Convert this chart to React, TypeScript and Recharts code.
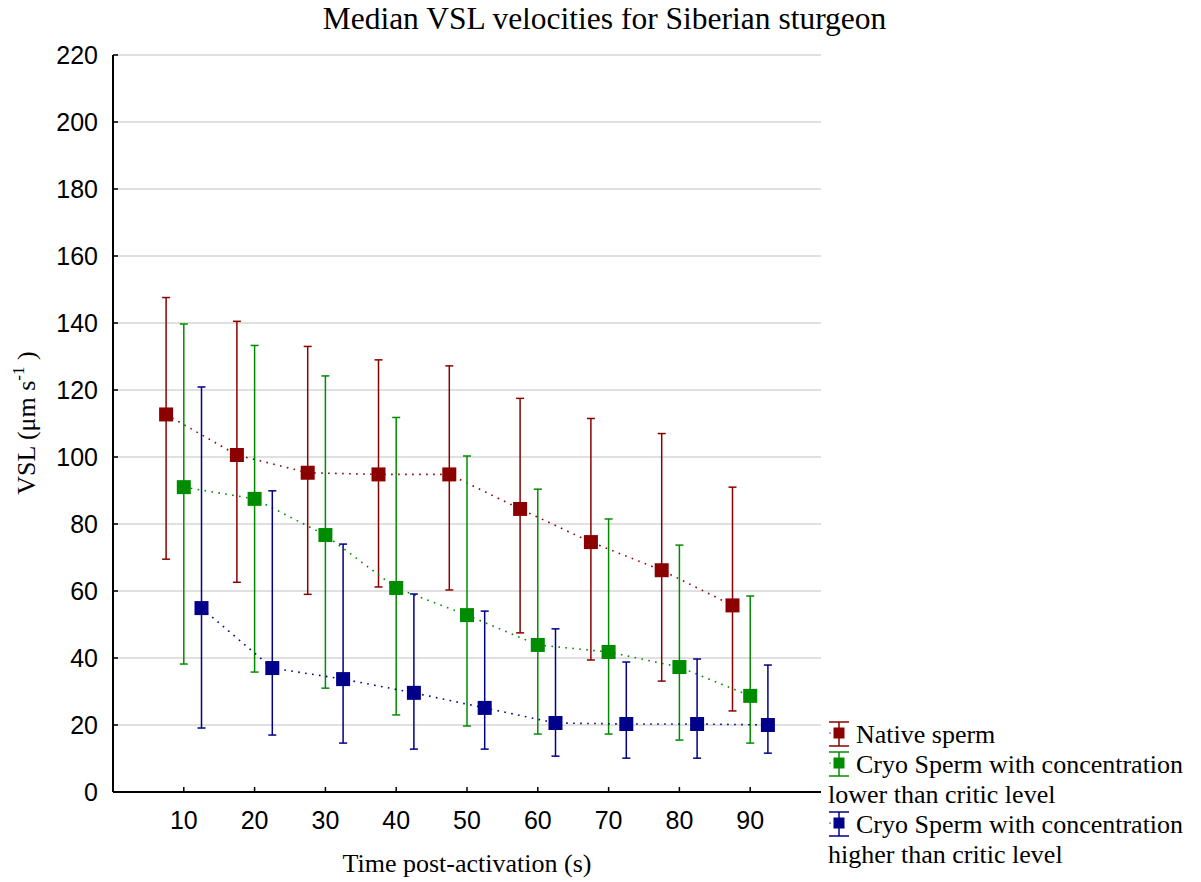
import React from "react";
import {
  ComposedChart, Line, ErrorBar, XAxis, YAxis, CartesianGrid, Legend,
} from "recharts";

// time post-activation (s), each group nudged a little so the bars don't overlap
const nativeTime = [7.5, 17.5, 27.5, 37.5, 47.5, 57.5, 67.5, 77.5, 87.5];
const lowTime = [10, 20, 30, 40, 50, 60, 70, 80, 90];
const highTime = [12.5, 22.5, 32.5, 42.5, 52.5, 62.5, 72.5, 82.5, 92.5];

// medians
const nativeMedian = [112.7, 100.6, 95.3, 94.8, 94.8, 84.5, 74.6, 66.2, 55.7];
const lowMedian = [91.0, 87.5, 76.7, 60.9, 52.8, 43.9, 41.8, 37.3, 28.7];
const highMedian = [54.9, 37.0, 33.7, 29.6, 25.1, 20.6, 20.3, 20.3, 20.0];

// whiskers
const nativeUpper = [147.6, 140.5, 133.0, 129.0, 127.2, 117.5, 111.5, 107.0, 91.0];
const nativeLower = [69.5, 62.6, 59.0, 61.2, 60.3, 47.5, 39.4, 33.1, 24.2];
const lowUpper = [139.7, 133.3, 124.2, 111.8, 100.3, 90.4, 81.5, 73.7, 58.5];
const lowLower = [38.2, 35.8, 31.0, 23.0, 19.7, 17.3, 17.3, 15.5, 14.6];
const highUpper = [120.9, 89.9, 74.0, 59.1, 54.0, 48.7, 38.8, 39.7, 37.9];
const highLower = [19.1, 17.0, 14.6, 12.8, 12.8, 10.7, 10.1, 10.1, 11.6];

const seriesNames = [
  "Native sperm",
  "Cryo Sperm with concentration lower than critic level",
  "Cryo Sperm with concentration higher than critic level",
];

const xTicks = [10, 20, 30, 40, 50, 60, 70, 80, 90];
const yTicks = [0, 20, 40, 60, 80, 100, 120, 140, 160, 180, 200, 220];

const RED = "#8b0000";
const GREEN = "#008c00";
const BLUE = "#00008b";

const SERIF = "'Liberation Serif', 'Times New Roman', serif";
const SANS = "'Liberation Sans', Arial, sans-serif";

function build(xs: number[], med: number[], lo: number[], hi: number[]) {
  return xs.map((x, i) => ({ x, y: med[i], err: [med[i] - lo[i], hi[i] - med[i]] }));
}

const nativeData = build(nativeTime, nativeMedian, nativeLower, nativeUpper);
const lowData = build(lowTime, lowMedian, lowLower, lowUpper);
const highData = build(highTime, highMedian, highLower, highUpper);

const W = 1193;
const H = 874;

function squareDot(color: string) {
  return (props: any) => {
    const { cx, cy, index } = props;
    if (cx == null || cy == null) return <g key={index} />;
    return <rect key={index} x={cx - 7} y={cy - 7} width={14} height={14} fill={color} />;
  };
}

function LegendIcon({ color }: { color: string }) {
  return (
    <svg width={22} height={26} style={{ verticalAlign: "-4px", marginRight: 6 }}>
      <rect x={1.5} y={11.5} width={1.2} height={1.2} fill={color} />
      <line x1={11} x2={11} y1={1} y2={25} stroke={color} strokeWidth={1.5} />
      <line x1={1} x2={21} y1={1} y2={1} stroke={color} strokeWidth={1.5} />
      <line x1={1} x2={21} y1={25} y2={25} stroke={color} strokeWidth={1.5} />
      <rect x={5.5} y={6.5} width={11} height={11} fill={color} />
    </svg>
  );
}

function renderLegend(props: any) {
  const items = [...(props.payload || [])].sort(
    (a: any, b: any) => seriesNames.indexOf(a.value) - seriesNames.indexOf(b.value)
  );
  return (
    <div style={{ fontFamily: SERIF, fontSize: 26, lineHeight: "30px", color: "#000" }}>
      {items.map((it: any) => (
        <div key={it.value}>
          <LegendIcon color={it.color} />
          {it.value}
        </div>
      ))}
    </div>
  );
}

const tickFont = { fill: "#000", fontFamily: SANS, fontSize: 25 };

export default function App() {
  return (
    <div style={{ position: "relative", width: W, height: H }}>
      <div
        style={{
          position: "absolute", left: 0, top: -5, width: W, textAlign: "center",
          fontFamily: SERIF, fontSize: 31.5, lineHeight: "32px", zIndex: 2,
        }}
      >
        Median VSL velocities for Siberian sturgeon
      </div>
      <ComposedChart width={W} height={H} margin={{ top: 47, right: 380, bottom: 0, left: 0 }}>
        <CartesianGrid vertical={false} stroke="#d6d6d6" strokeWidth={1.5} yAxisId="left" />
        <XAxis
          xAxisId="bottom"
          type="number"
          dataKey="x"
          domain={[0, 100]}
          ticks={xTicks}
          allowDataOverflow
          height={90}
          axisLine={{ stroke: "#000", strokeWidth: 2 }}
          tickLine={{ stroke: "#000", strokeWidth: 1.5 }}
          tickSize={-5}
          tickMargin={24}
          tick={tickFont}
          label={{
            content: () => (
              <text x={459} y={864} textAnchor="middle" fontFamily={SERIF} fontSize={26} fill="#000">
                Time post-activation (s)
              </text>
            ),
          }}
        />
        <XAxis
          xAxisId="top"
          orientation="top"
          type="number"
          dataKey="x"
          domain={[0, 100]}
          ticks={xTicks}
          allowDataOverflow
          height={0}
          axisLine={{ stroke: "#000", strokeWidth: 2 }}
          tickLine={{ stroke: "#000", strokeWidth: 1.5 }}
          tickSize={-5}
          tickFormatter={() => ""}
        />
        <YAxis
          yAxisId="left"
          type="number"
          domain={[0, 220]}
          ticks={yTicks}
          width={105}
          axisLine={{ stroke: "#000", strokeWidth: 2 }}
          tickLine={{ stroke: "#000", strokeWidth: 1.5 }}
          tickSize={-5}
          tickMargin={20}
          tick={tickFont}
          label={{
            content: () => (
              <text
                x={27}
                y={415}
                transform="rotate(-90 27 415)"
                textAnchor="middle"
                fontFamily={SERIF}
                fontSize={26}
                fill="#000"
              >
                VSL (μm s<tspan dy={-11} fontSize={17}>-1</tspan>
                <tspan dy={11}> )</tspan>
              </text>
            ),
          }}
        />
        <YAxis
          yAxisId="right"
          orientation="right"
          type="number"
          domain={[0, 220]}
          ticks={yTicks}
          width={0}
          axisLine={{ stroke: "#000", strokeWidth: 2 }}
          tickLine={{ stroke: "#000", strokeWidth: 1.5 }}
          tickSize={-5}
          tickFormatter={() => ""}
        />
        <Line
          name={seriesNames[0]}
          data={nativeData}
          dataKey="y"
          xAxisId="bottom"
          yAxisId="left"
          stroke={RED}
          strokeWidth={1.6}
          strokeDasharray="1.6 5.4"
          dot={squareDot(RED)}
          activeDot={false}
          isAnimationActive={false}
        >
          <ErrorBar dataKey="err" direction="y" width={4} stroke={RED} strokeWidth={1.5} isAnimationActive={false} />
        </Line>
        <Line
          name={seriesNames[1]}
          data={lowData}
          dataKey="y"
          xAxisId="bottom"
          yAxisId="left"
          stroke={GREEN}
          strokeWidth={1.6}
          strokeDasharray="1.6 5.4"
          dot={squareDot(GREEN)}
          activeDot={false}
          isAnimationActive={false}
        >
          <ErrorBar dataKey="err" direction="y" width={4} stroke={GREEN} strokeWidth={1.5} isAnimationActive={false} />
        </Line>
        <Line
          name={seriesNames[2]}
          data={highData}
          dataKey="y"
          xAxisId="bottom"
          yAxisId="left"
          stroke={BLUE}
          strokeWidth={1.6}
          strokeDasharray="1.6 5.4"
          dot={squareDot(BLUE)}
          activeDot={false}
          isAnimationActive={false}
        >
          <ErrorBar dataKey="err" direction="y" width={4} stroke={BLUE} strokeWidth={1.5} isAnimationActive={false} />
        </Line>
        <Legend
          layout="vertical"
          align="center"
          verticalAlign="middle"
          content={renderLegend}
          wrapperStyle={{ position: "absolute", left: 820, top: 712, width: 372, margin: 0 }}
        />
      </ComposedChart>
    </div>
  );
}
